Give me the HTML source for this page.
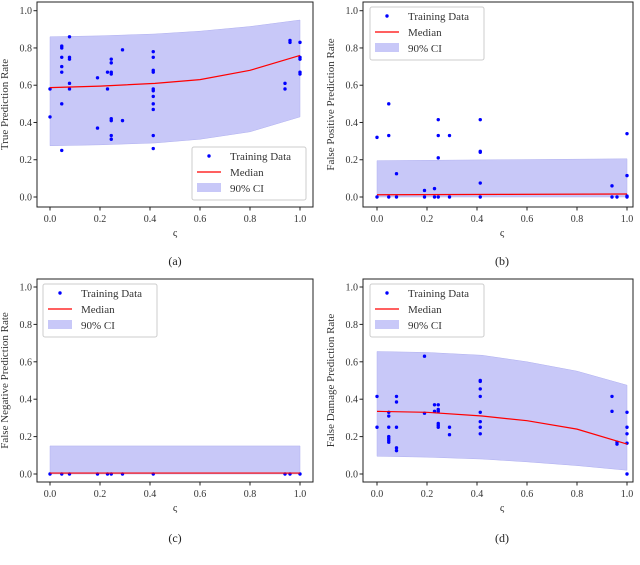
<!DOCTYPE html>
<html><head><meta charset="utf-8">
<style>
body{margin:0;background:#fff;}
svg{display:block;font-family:"Liberation Serif",serif;}
</style></head>
<body>
<svg id="fig" width="640" height="565" viewBox="0 0 640 565" xmlns="http://www.w3.org/2000/svg"></svg>
<script>
// ---- data ----
const xTicks=[0,0.2,0.4,0.6,0.8,1.0];
const yTicks=[0,0.2,0.4,0.6,0.8,1.0];
const tickLabels=["0.0","0.2","0.4","0.6","0.8","1.0"];
// panel a
const aPtsX=[0,0,0.047,0.047,0.047,0.047,0.047,0.047,0.047,0.078,0.078,0.078,0.078,0.078,0.19,0.19,0.23,0.23,0.245,0.245,0.245,0.245,0.245,0.245,0.245,0.245,0.29,0.29,0.413,0.413,0.413,0.413,0.413,0.413,0.413,0.413,0.413,0.413,0.413,0.94,0.94,0.96,0.96,1,1,1,1,1];
const aPtsY=[0.58,0.43,0.81,0.80,0.75,0.70,0.67,0.50,0.25,0.86,0.75,0.74,0.61,0.58,0.64,0.37,0.67,0.58,0.74,0.72,0.67,0.66,0.42,0.41,0.33,0.31,0.79,0.41,0.78,0.75,0.68,0.67,0.58,0.57,0.54,0.50,0.47,0.33,0.26,0.61,0.58,0.84,0.83,0.83,0.75,0.74,0.67,0.66];
const aCurveX=[0,0.2,0.42,0.6,0.8,1];
const aMedian=[0.587,0.595,0.61,0.63,0.68,0.76];
const aUpper=[0.86,0.865,0.875,0.89,0.915,0.95];
const aLower=[0.275,0.28,0.29,0.31,0.35,0.43];
// panel b
const bPtsX=[0,0,0.047,0.047,0.047,0.078,0.078,0.19,0.19,0.23,0.23,0.245,0.245,0.245,0.245,0.29,0.29,0.413,0.413,0.413,0.413,0.413,0.94,0.94,0.96,1,1,1,1];
const bPtsY=[0.32,0,0.5,0.33,0,0.125,0,0.035,0,0.045,0,0.415,0.33,0.21,0,0.33,0,0.415,0.245,0.24,0.075,0,0.06,0,0,0.34,0.115,0.005,0];
const bCurveX=[0,0.5,1];
const bMedian=[0.012,0.014,0.016];
const bUpper=[0.195,0.2,0.205];
const bLower=[0,0,0];
// panel c
const cPtsX=[0,0.047,0.078,0.19,0.23,0.245,0.29,0.413,0.94,0.96,1];
const cPtsY=[0,0,0,0,0,0,0,0,0,0,0];
const cCurveX=[0,0.5,1];
const cMedian=[0.005,0.005,0.005];
const cUpper=[0.15,0.15,0.15];
const cLower=[0,0,0];
// panel d
const dPtsX=[0,0,0.047,0.047,0.047,0.047,0.047,0.047,0.047,0.078,0.078,0.078,0.078,0.078,0.19,0.19,0.23,0.23,0.245,0.245,0.245,0.245,0.245,0.245,0.29,0.29,0.413,0.413,0.413,0.413,0.413,0.413,0.413,0.413,0.94,0.94,0.96,0.96,1,1,1,1,1];
const dPtsY=[0.415,0.25,0.33,0.31,0.25,0.2,0.19,0.18,0.17,0.415,0.385,0.25,0.14,0.125,0.63,0.325,0.37,0.335,0.37,0.345,0.335,0.27,0.26,0.25,0.25,0.21,0.5,0.495,0.455,0.415,0.33,0.28,0.25,0.215,0.415,0.335,0.17,0.16,0.33,0.25,0.215,0.165,0];
const dCurveX=[0,0.2,0.42,0.6,0.8,1];
const dMedian=[0.335,0.33,0.31,0.285,0.24,0.16];
const dUpper=[0.655,0.65,0.635,0.6,0.55,0.475];
const dLower=[0.095,0.09,0.08,0.065,0.045,0.02];

const NS="http://www.w3.org/2000/svg";
const fig=document.getElementById('fig');
function mk(tag,attrs,parent){const e=document.createElementNS(NS,tag);for(const k in attrs)e.setAttribute(k,attrs[k]);(parent||fig).appendChild(e);return e;}

function panel(o){
  const g=mk('g',{});
  
  
  const sx=v=>o.x0+(o.x1-o.x0)*v;
  const sy=v=>o.y0-(o.y0-o.y1)*v;
  // band
  let d='';
  o.cx.forEach((v,i)=>{d+=(i?'L':'M')+sx(v)+','+sy(o.up[i]);});
  for(let i=o.cx.length-1;i>=0;i--)d+='L'+sx(o.cx[i])+','+sy(o.lo[i]);
  const band=mk('path',{d:d+'Z',fill:'#c8c8f8',stroke:'#b0b0f0','stroke-width':0.5},g);
  
  
  // points
  o.px.forEach((v,i)=>{
    const c=mk('circle',{cx:sx(v),cy:sy(o.py[i]),r:1.7,fill:'#0000ff'},g);
    
    
  });
  // median
  let m='';o.cx.forEach((v,i)=>{m+=(i?'L':'M')+sx(v)+','+sy(o.med[i]);});
  const ml=mk('path',{d:m,fill:'none',stroke:'#ff0000','stroke-width':1.2},g);
  
  
  // frame
  const fr=mk('rect',{x:o.bx0,y:o.by0,width:o.bx1-o.bx0,height:o.by1-o.by0,fill:'none',stroke:'#222','stroke-width':1},g);
  
  
  xTicks.forEach((v,i)=>{
    mk('line',{x1:sx(v),x2:sx(v),y1:o.by1,y2:o.by1+3.5,stroke:'#222'},g);
    const t=mk('text',{x:sx(v),y:o.by1+15,'font-size':10,'text-anchor':'middle',fill:'#333'},g);
    t.textContent=tickLabels[i];
    
    
  });
  yTicks.forEach((v,i)=>{
    mk('line',{x1:o.bx0-3.5,x2:o.bx0,y1:sy(v),y2:sy(v),stroke:'#222'},g);
    const t=mk('text',{x:o.bx0-5,y:sy(v)+3.5,'font-size':10,'text-anchor':'end',fill:'#333'},g);
    t.textContent=tickLabels[i];
    
    
  });
  const xl=mk('text',{x:(o.x0+o.x1)/2,y:o.by1+29,'font-size':11,'text-anchor':'middle',fill:'#333'},g);
  xl.textContent='ς';
  
  
  const yl=mk('text',{x:0,y:0,'font-size':11,'text-anchor':'middle',fill:'#333',transform:`translate(${o.bx0-29},${(o.by0+o.by1)/2}) rotate(-90)`},g);
  yl.textContent=o.ylabel;
  
  
  const cap=mk('text',{x:(o.x0+o.x1)/2,y:o.capY,'font-size':12,'text-anchor':'middle',fill:'#222'},g);
  cap.textContent=o.cap;
  
  
  // legend
  const L=o.leg;
  const lg=mk('g',{},g);
  
  
  mk('rect',{x:L[0],y:L[1],width:114,height:53,rx:2,fill:'#fff','fill-opacity':0.85,stroke:'#ccc'},lg);
  mk('circle',{cx:L[0]+17,cy:L[1]+9,r:1.7,fill:'#0000ff'},lg);
  mk('line',{x1:L[0]+5,x2:L[0]+29,y1:L[1]+25,y2:L[1]+25,stroke:'#ff0000','stroke-width':1.2},lg);
  mk('rect',{x:L[0]+5,y:L[1]+36,width:24,height:9,fill:'#c8c8f8'},lg);
  [['Training Data',13],['Median',29],['90% CI',45]].forEach(([s,dy])=>{
    const t=mk('text',{x:L[0]+38,y:L[1]+dy,'font-size':11,fill:'#333'},lg);
    t.textContent=s;
    
    
  });
}
panel({name:'panel-a-true-prediction',x0:50,x1:300,y0:197,y1:10.7,bx0:37,bx1:313,by0:2,by1:207,px:aPtsX,py:aPtsY,cx:aCurveX,med:aMedian,up:aUpper,lo:aLower,ylabel:'True Prediction Rate',cap:'(a)',capY:265,leg:[192,147]});
panel({name:'panel-b-false-positive',x0:377,x1:627,y0:197,y1:10.7,bx0:363,bx1:633,by0:2,by1:207,px:bPtsX,py:bPtsY,cx:bCurveX,med:bMedian,up:bUpper,lo:bLower,ylabel:'False Positive Prediction Rate',cap:'(b)',capY:265,leg:[370,7]});
panel({name:'panel-c-false-negative',x0:50,x1:300,y0:474,y1:287,bx0:37,bx1:313,by0:279,by1:482,px:cPtsX,py:cPtsY,cx:cCurveX,med:cMedian,up:cUpper,lo:cLower,ylabel:'False Negative Prediction Rate',cap:'(c)',capY:542,leg:[43,284]});
panel({name:'panel-d-false-damage',x0:377,x1:627,y0:474,y1:287,bx0:363,bx1:633,by0:279,by1:482,px:dPtsX,py:dPtsY,cx:dCurveX,med:dMedian,up:dUpper,lo:dLower,ylabel:'False Damage Prediction Rate',cap:'(d)',capY:542,leg:[370,284]});
</script>
</body></html>
